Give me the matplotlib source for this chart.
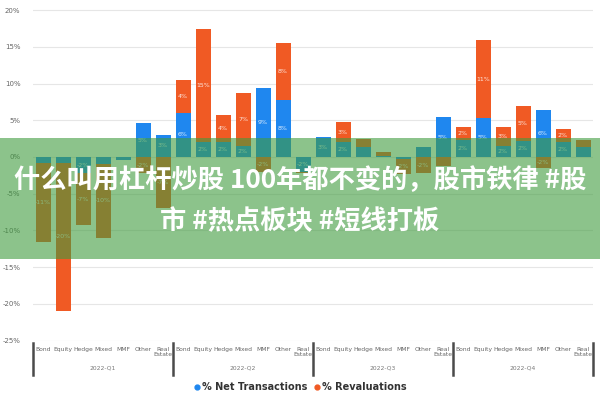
import numpy as np
import matplotlib
matplotlib.use("Agg")
import matplotlib.pyplot as plt
from matplotlib.patches import Rectangle
from matplotlib.lines import Line2D

categories = ["Bond", "Equity", "Hedge", "Mixed", "MMF", "Other", "Real\nEstate"]
quarters = ["2022-Q1", "2022-Q2", "2022-Q3", "2022-Q4"]

# % net transactions per bar (4 quarters x 7 categories)
net = [-0.8, -0.8, -2.2, -0.9, -0.4, 4.6, 3.0,
       6.0, 2.0, 2.0, 1.5, 9.4, 7.8, -2.0,
       2.7, 2.0, 1.4, 0.2, -0.3, 1.4, 5.4,
       2.3, 5.3, 1.5, 2.2, 6.4, 2.0, 1.3]
# % revaluations per bar
reval = [-10.8, -20.2, -7.1, -10.1, 0.0, -2.2, -7.0,
         4.5, 15.4, 3.7, 7.2, -2.0, 7.7, -0.2,
         0.0, 2.8, 1.0, 0.5, -2.0, -2.2, -1.2,
         1.8, 10.6, 2.6, 4.7, -1.5, 1.8, 1.0]

overlay_lines = "什么叫用杠杆炒股 100年都不变的，股市铁律 #股\n市 #热点板块 #短线打板"

blue = "#1f87ef"
orange = "#f05a24"

net = np.array(net)
reval = np.array(reval)
x = np.arange(len(net))

fig = plt.figure(figsize=(6, 4), dpi=100)
ax = fig.add_axes([33 / 600, 1 - 340.5 / 400, 560 / 600, 334 / 400])

# stack positives up and negatives down, net first
pos_base = np.zeros(len(x))
neg_base = np.zeros(len(x))
for vals, col in [(net, blue), (reval, orange)]:
    bottoms = np.where(vals >= 0, pos_base, neg_base)
    ax.bar(x, vals, 0.75, bottom=bottoms, color=col, zorder=3)
    for xi, b, v in zip(x, bottoms, vals):
        if abs(v) >= 1.5:
            ax.text(xi, b + v / 2, f"{round(v):.0f}%", ha="center", va="center",
                    fontsize=4.5, color="white", alpha=0.85, zorder=4)
    pos_base = pos_base + np.where(vals > 0, vals, 0)
    neg_base = neg_base + np.where(vals < 0, vals, 0)

ax.set_xlim(-0.5, len(x) - 0.5)
ax.set_ylim(-25, 20.5)
ax.set_yticks(np.arange(-25, 21, 5))
ax.set_yticklabels([f"{v}%" for v in range(-25, 21, 5)])
ax.grid(axis="y", color="#e6e6e6", lw=0.8, zorder=0)
for s in ax.spines.values():
    s.set_visible(False)
ax.tick_params(axis="y", length=0, labelsize=5, colors="#666666", pad=9)

ax.set_xticks(x)
ax.set_xticklabels(categories * len(quarters), fontsize=4.3, color="#666666",
                   linespacing=1.0, va="top")
ax.tick_params(axis="x", length=0, pad=5)

tr = ax.get_xaxis_transform()
for k in range(len(quarters) + 1):
    ax.plot([k * 7 - 0.5] * 2, [-0.008, -0.103], transform=tr, clip_on=False,
            color="#4a4a4a", lw=1.8)
for k, q in enumerate(quarters):
    ax.text(k * 7 + 3, -0.082, q, transform=tr, ha="center", va="center",
            fontsize=4.3, color="#777777")

handles = [Line2D([], [], marker="o", ls="", color=blue, markersize=3.5),
           Line2D([], [], marker="o", ls="", color=orange, markersize=3.5)]
leg = fig.legend(handles, ["% Net Transactions", "% Revaluations"], loc="center",
                 bbox_to_anchor=(0.5, 1 - 387 / 400), ncol=2, frameon=False,
                 prop={"size": 7, "weight": "bold"}, handletextpad=0.1,
                 columnspacing=0.6, handlelength=0.8)
for t in leg.get_texts():
    t.set_color("#333333")

band = Rectangle((0, 1 - 259 / 400), 1, 121 / 400, transform=fig.transFigure,
                 color="#3f9b3e", alpha=0.6, zorder=10, lw=0)
fig.add_artist(band)
fig.text(0.5, 1 - 201 / 400, overlay_lines, ha="center", va="center",
         multialignment="center", fontsize=18.9, fontweight="bold", color="white",
         family=["Noto Sans CJK SC", "DejaVu Sans"], linespacing=1.7, zorder=11)

fig.savefig("out.png", dpi=100, facecolor="white")
